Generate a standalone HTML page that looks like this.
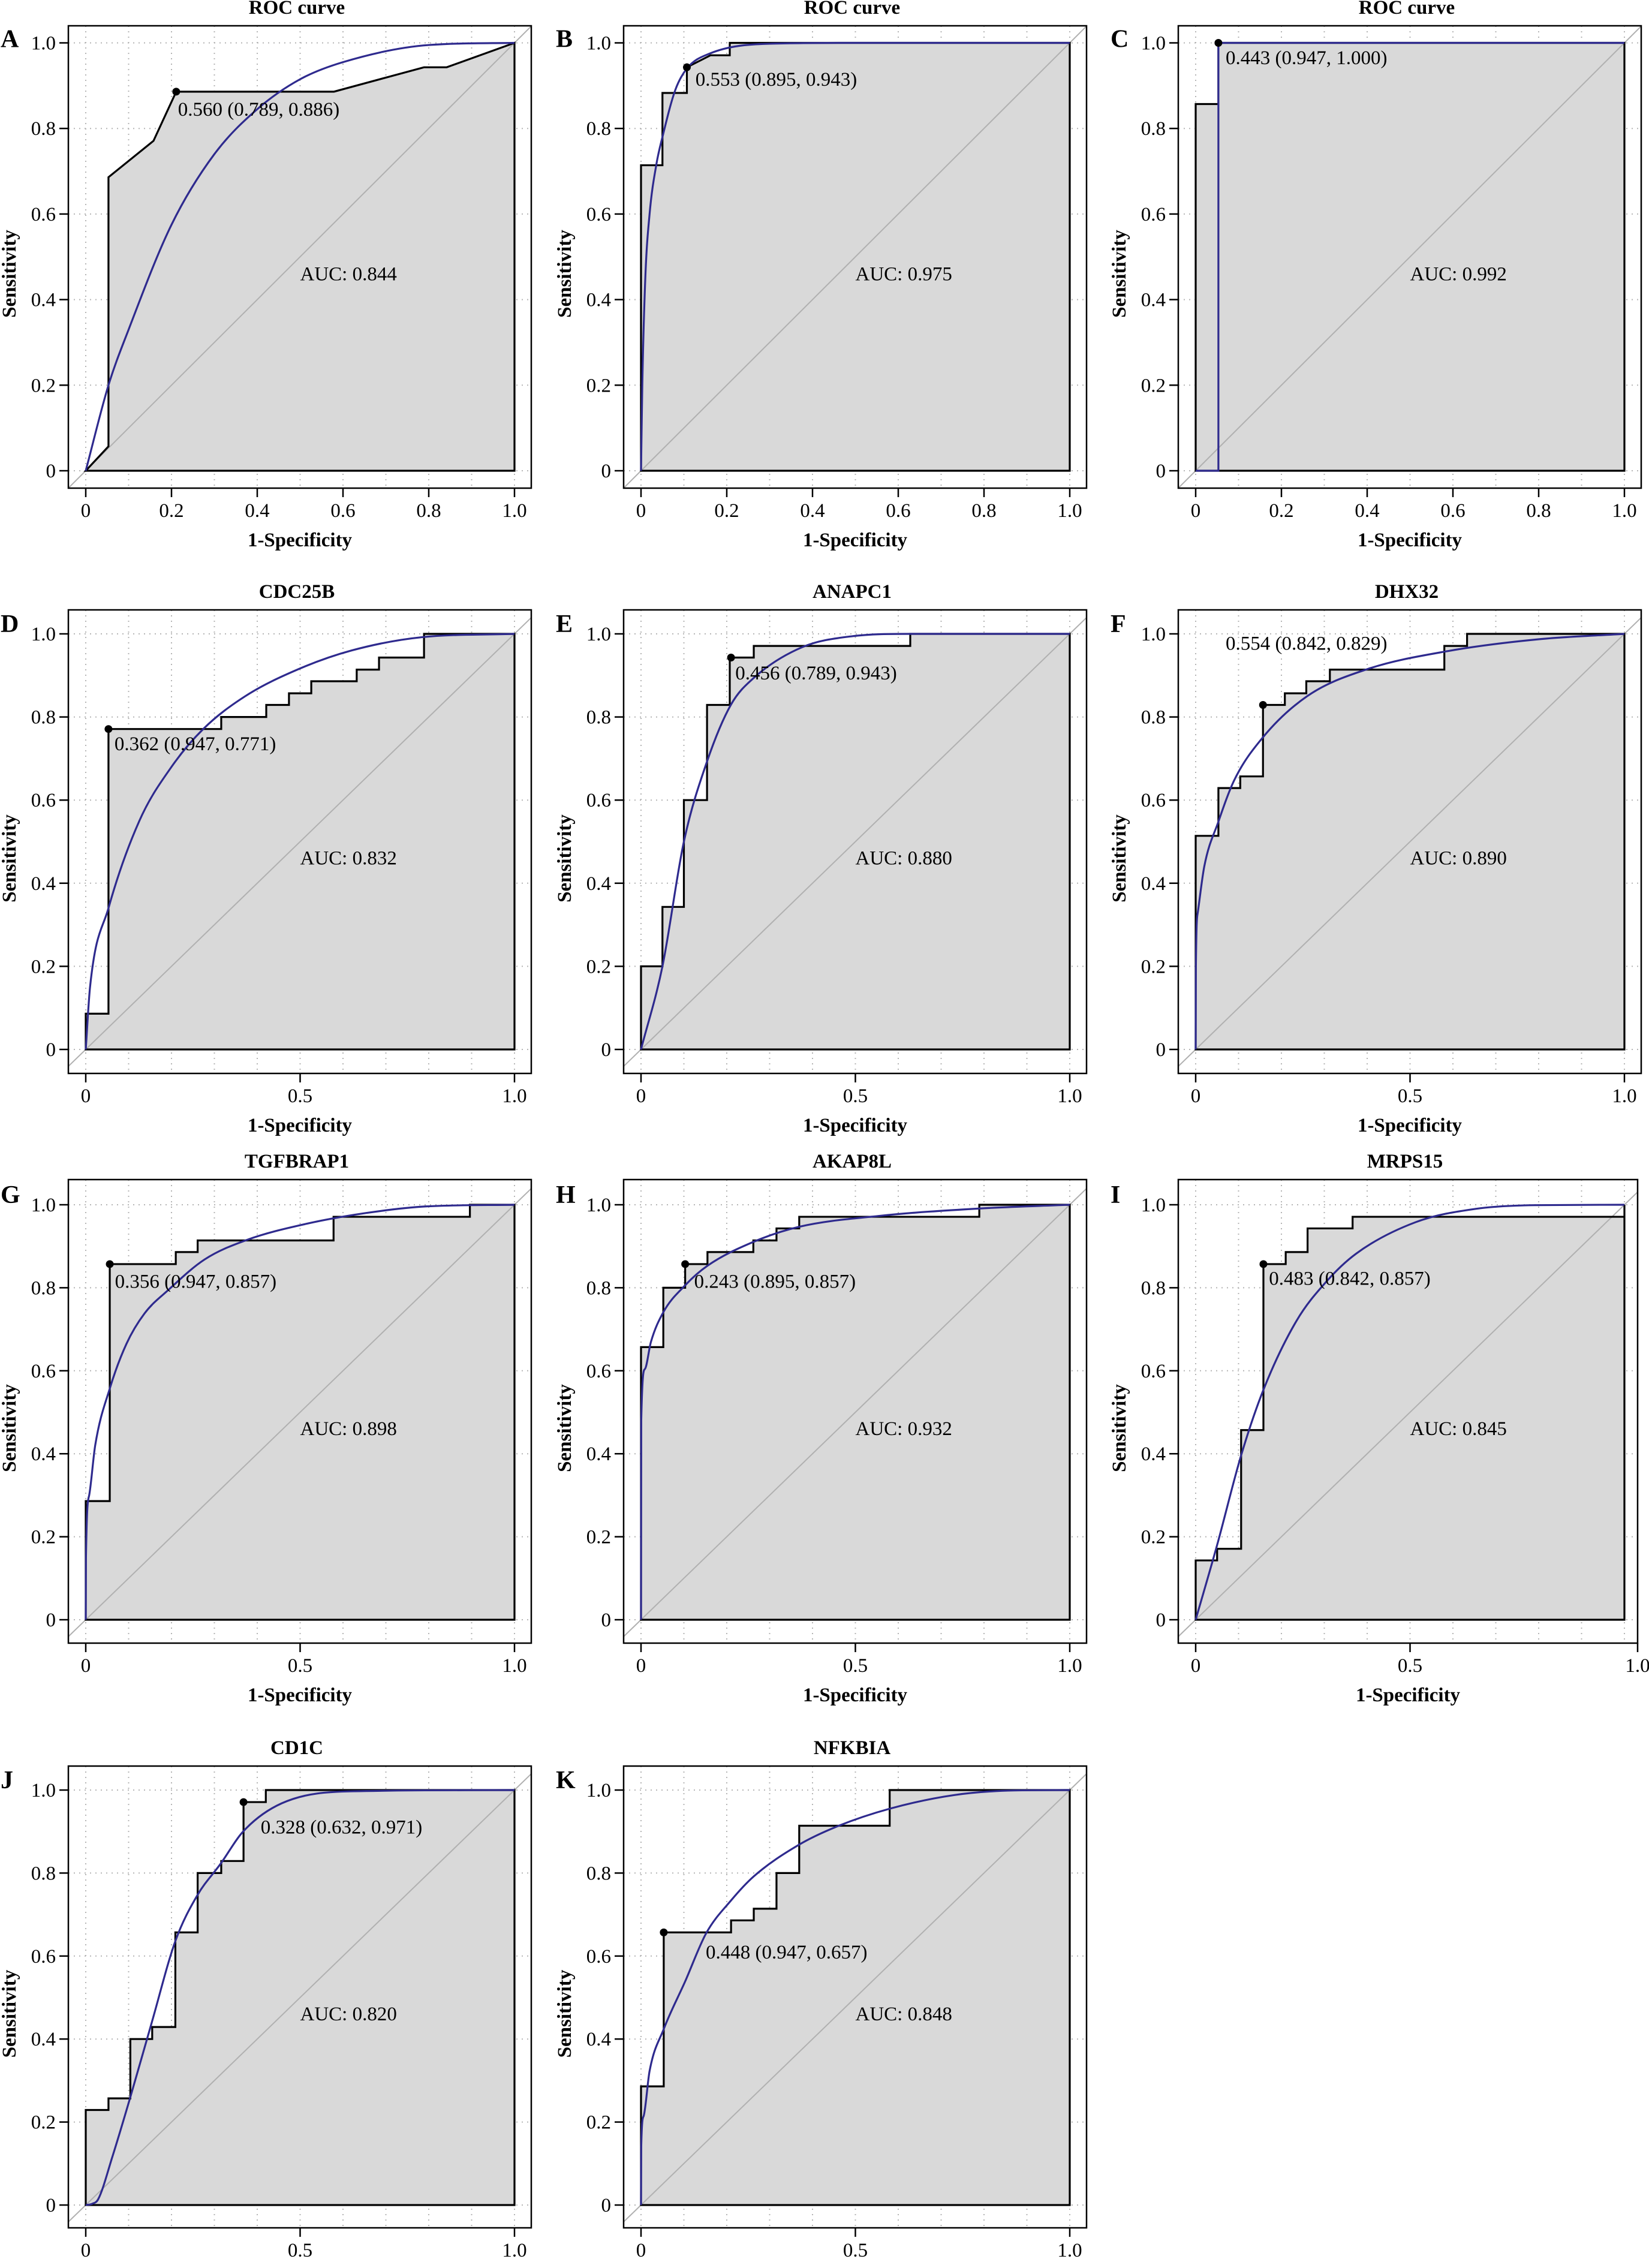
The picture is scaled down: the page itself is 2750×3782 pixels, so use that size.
<!DOCTYPE html>
<html>
<head>
<meta charset="utf-8">
<style>
  html, body { margin: 0; padding: 0; background: #ffffff; }
  svg { display: block; }
  text { font-family: "Liberation Serif", "DejaVu Serif", serif; fill: #000; }
  .bold { font-weight: bold; }
</style>
</head>
<body>
<svg id="fig" xmlns="http://www.w3.org/2000/svg" width="2750" height="3782" viewBox="0 0 2750 3782"></svg>
<script>
// ---------- data ----------
const panelLetters = ["A","B","C","D","E","F","G","H","I","J","K"];
const panelTitles = ["ROC curve","ROC curve","ROC curve","CDC25B","ANAPC1","DHX32","TGFBRAP1","AKAP8L","MRPS15","CD1C","NFKBIA"];
const aucValues = ["0.844","0.975","0.992","0.832","0.880","0.890","0.898","0.932","0.845","0.820","0.848"];
const thresholdLabels = ["0.560 (0.789, 0.886)","0.553 (0.895, 0.943)","0.443 (0.947, 1.000)","0.362 (0.947, 0.771)","0.456 (0.789, 0.943)","0.554 (0.842, 0.829)","0.356 (0.947, 0.857)","0.243 (0.895, 0.857)","0.483 (0.842, 0.857)","0.328 (0.632, 0.971)","0.448 (0.947, 0.657)"];
const thresholdPoints = [[0.211,0.886],[0.107,0.943],[0.053,1.0],[0.053,0.771],[0.21,0.943],[0.157,0.829],[0.056,0.857],[0.103,0.857],[0.158,0.857],[0.368,0.971],[0.053,0.657]];
const labelAnchors = [[0.215,0.83],[0.127,0.90],[0.07,0.95],[0.067,0.72],[0.22,0.89],[0.07,0.962],[0.068,0.80],[0.124,0.80],[0.171,0.807],[0.408,0.895],[0.151,0.594]];
const yTicks = [0,0.2,0.4,0.6,0.8,1.0];
const yTickLabels = ["0","0.2","0.4","0.6","0.8","1.0"];
const xTicksRow1 = [0,0.2,0.4,0.6,0.8,1.0];
const xTickLabelsRow1 = ["0","0.2","0.4","0.6","0.8","1.0"];
const xTicksOther = [0,0.5,1.0];
const xTickLabelsOther = ["0","0.5","1.0"];

const stepsA = [[0,0],[0.053,0.057],[0.053,0.686],[0.158,0.771],[0.211,0.886],[0.579,0.886],[0.789,0.943],[0.842,0.943],[1,1]];
const stepsB = [[0,0],[0,0.714],[0.05,0.714],[0.05,0.883],[0.107,0.883],[0.107,0.943],[0.162,0.971],[0.207,0.971],[0.207,1],[1,1]];
const stepsC = [[0,0],[0,0.857],[0.053,0.857],[0.053,1],[1,1]];
const stepsD = [[0,0],[0,0.086],[0.053,0.086],[0.053,0.771],[0.316,0.771],[0.316,0.8],[0.421,0.8],[0.421,0.829],[0.474,0.829],[0.474,0.857],[0.526,0.857],[0.526,0.886],[0.632,0.886],[0.632,0.914],[0.684,0.914],[0.684,0.943],[0.789,0.943],[0.789,1],[1,1]];
const stepsE = [[0,0],[0,0.2],[0.05,0.2],[0.05,0.343],[0.1,0.343],[0.1,0.6],[0.154,0.6],[0.154,0.829],[0.207,0.829],[0.207,0.943],[0.263,0.943],[0.263,0.971],[0.628,0.971],[0.628,1],[1,1]];
const stepsF = [[0,0],[0,0.514],[0.053,0.514],[0.053,0.629],[0.104,0.629],[0.104,0.657],[0.157,0.657],[0.157,0.829],[0.208,0.829],[0.208,0.857],[0.258,0.857],[0.258,0.886],[0.313,0.886],[0.313,0.914],[0.58,0.914],[0.58,0.971],[0.633,0.971],[0.633,1],[1,1]];
const stepsG = [[0,0],[0,0.286],[0.056,0.286],[0.056,0.857],[0.21,0.857],[0.21,0.886],[0.261,0.886],[0.261,0.914],[0.578,0.914],[0.578,0.971],[0.896,0.971],[0.896,1],[1,1]];
const stepsH = [[0,0],[0,0.657],[0.052,0.657],[0.052,0.8],[0.103,0.8],[0.103,0.857],[0.155,0.857],[0.155,0.886],[0.262,0.886],[0.262,0.914],[0.316,0.914],[0.316,0.943],[0.369,0.943],[0.369,0.971],[0.789,0.971],[0.789,1],[1,1]];
const stepsI = [[0,0],[0,0.143],[0.05,0.143],[0.05,0.171],[0.106,0.171],[0.106,0.457],[0.158,0.457],[0.158,0.857],[0.21,0.857],[0.21,0.886],[0.261,0.886],[0.261,0.943],[0.366,0.943],[0.366,0.971],[1,0.971],[1,1]];
const stepsJ = [[0,0],[0,0.229],[0.053,0.229],[0.053,0.257],[0.104,0.257],[0.104,0.4],[0.155,0.4],[0.155,0.429],[0.209,0.429],[0.209,0.657],[0.261,0.657],[0.261,0.8],[0.316,0.8],[0.316,0.829],[0.368,0.829],[0.368,0.971],[0.42,0.971],[0.42,1],[1,1]];
const stepsK = [[0,0],[0,0.286],[0.053,0.286],[0.053,0.657],[0.21,0.657],[0.21,0.686],[0.263,0.686],[0.263,0.714],[0.316,0.714],[0.316,0.8],[0.369,0.8],[0.369,0.914],[0.58,0.914],[0.58,1],[1,1]];

const smoothA = [[0,0],[0.053,0.2],[0.1,0.33],[0.2,0.575],[0.3,0.74],[0.4,0.845],[0.5,0.915],[0.6,0.955],[0.8,0.995],[1,1]];
const smoothB = [[0,0],[0.003,0.2],[0.01,0.45],[0.02,0.6],[0.036,0.717],[0.05,0.78],[0.08,0.89],[0.107,0.94],[0.16,0.975],[0.3,0.998],[0.5,1],[1,1]];
const smoothC = [[0,0],[0.053,0],[0.053,1],[1,1]];
const smoothD = [[0,0],[0.01,0.15],[0.053,0.34],[0.125,0.55],[0.2,0.68],[0.274,0.771],[0.372,0.85],[0.496,0.915],[0.62,0.96],[0.784,0.992],[1,1]];
const smoothE = [[0,0],[0.05,0.2],[0.1,0.5],[0.154,0.693],[0.21,0.83],[0.263,0.894],[0.376,0.968],[0.49,0.994],[0.63,1],[1,1]];
const smoothF = [[0,0],[0.0005,0.2],[0.005,0.33],[0.02,0.44],[0.053,0.548],[0.09,0.648],[0.156,0.75],[0.26,0.85],[0.4,0.915],[0.585,0.958],[0.8,0.987],[1,1]];
const smoothG = [[0,0],[0.0005,0.15],[0.008,0.3],[0.022,0.42],[0.056,0.557],[0.095,0.665],[0.137,0.738],[0.193,0.795],[0.277,0.868],[0.375,0.915],[0.514,0.954],[0.653,0.98],[0.793,0.996],[1,1]];
const smoothH = [[0,0],[0.0005,0.48],[0.009,0.604],[0.023,0.669],[0.052,0.741],[0.103,0.806],[0.155,0.853],[0.261,0.91],[0.369,0.947],[0.554,0.973],[0.79,0.991],[1,1]];
const smoothI = [[0,0],[0.05,0.18],[0.106,0.396],[0.158,0.554],[0.235,0.72],[0.304,0.814],[0.374,0.882],[0.513,0.958],[0.652,0.99],[0.79,0.999],[1,1]];
const smoothJ = [[0,0],[0.015,0.003],[0.029,0.014],[0.062,0.116],[0.104,0.26],[0.154,0.44],[0.209,0.636],[0.26,0.746],[0.315,0.823],[0.367,0.9],[0.457,0.968],[0.622,0.997],[1,1]];
const smoothK = [[0,0],[0.0005,0.142],[0.006,0.214],[0.02,0.323],[0.053,0.424],[0.103,0.539],[0.152,0.655],[0.21,0.734],[0.263,0.792],[0.368,0.868],[0.459,0.913],[0.58,0.955],[0.731,0.988],[0.87,0.999],[1,1]];

const allSteps = [stepsA,stepsB,stepsC,stepsD,stepsE,stepsF,stepsG,stepsH,stepsI,stepsJ,stepsK];
const allSmooth = [smoothA,smoothB,smoothC,smoothD,smoothE,smoothF,smoothG,smoothH,smoothI,smoothJ,smoothK];

// ---------- layout ----------
const NS = "http://www.w3.org/2000/svg";
const svg = document.getElementById("fig");
const colX0 = [143, 1069, 1994];
const DW = 715;
const rowY1 = [71.5, 1057, 2009, 2985];
const rowY0 = [785, 1750, 2701, 3677];
const boxTop = [43, 1017, 1967, 2945];
const boxBot = [814, 1790, 2740, 3715];

function mk(tag, attrs, parent) {
  const e = document.createElementNS(NS, tag);
  for (const k in attrs) e.setAttribute(k, attrs[k]);
  (parent || svg).appendChild(e);
  return e;
}

// monotone cubic (Fritsch–Carlson) in data space, returns path through px mapping
function monotonePath(pts, sx, sy) {
  const n = pts.length;
  const xs = pts.map(p => p[0]), ys = pts.map(p => p[1]);
  const d = [], m = [];
  for (let i = 0; i < n - 1; i++) d.push((ys[i + 1] - ys[i]) / (xs[i + 1] - xs[i]));
  m[0] = d[0]; m[n - 1] = d[n - 2];
  for (let i = 1; i < n - 1; i++) m[i] = (d[i - 1] * d[i] <= 0) ? 0 : (d[i - 1] + d[i]) / 2;
  for (let i = 0; i < n - 1; i++) {
    if (d[i] === 0) { m[i] = 0; m[i + 1] = 0; continue; }
    const a = m[i] / d[i], b = m[i + 1] / d[i], s = a * a + b * b;
    if (s > 9) { const t = 3 / Math.sqrt(s); m[i] = t * a * d[i]; m[i + 1] = t * b * d[i]; }
  }
  let path = "M" + sx(xs[0]) + "," + sy(ys[0]);
  for (let i = 0; i < n - 1; i++) {
    const h = xs[i + 1] - xs[i];
    const c1x = xs[i] + h / 3, c1y = ys[i] + m[i] * h / 3;
    const c2x = xs[i + 1] - h / 3, c2y = ys[i + 1] - m[i + 1] * h / 3;
    path += " C" + sx(c1x) + "," + sy(c1y) + " " + sx(c2x) + "," + sy(c2y) + " " + sx(xs[i + 1]) + "," + sy(ys[i + 1]);
  }
  return path;
}

for (let i = 0; i < 11; i++) {
  const row = Math.floor(i / 3), col = i % 3;
  const x0 = colX0[col], y0 = rowY0[row], y1 = rowY1[row];
  const sx = v => x0 + v * DW;
  const sy = v => y0 - v * (y0 - y1);
  const bl = x0 - 29, br = (i === 8) ? 2731 : x0 + DW + 28, bt = boxTop[row], bb = boxBot[row];

  const g = mk("g", {});
  
  

  const clip = mk("clipPath", { id: "clip" + i }, g);
  mk("rect", { x: bl, y: bt, width: br - bl, height: bb - bt }, clip);

  const grid = mk("g", { stroke: "#b5b5b5", "stroke-width": 2, "stroke-dasharray": "2 7" }, g);
  
  
  for (let k = 0; k <= 10; k++) mk("line", { x1: sx(k / 10), x2: sx(k / 10), y1: bt, y2: bb }, grid);
  yTicks.forEach(t => mk("line", { x1: bl, x2: br, y1: sy(t), y2: sy(t) }, grid));

  const steps = allSteps[i];
  let pd = steps.map((p, k) => (k ? "L" : "M") + sx(p[0]) + "," + sy(p[1])).join(" ");
  pd += " L" + sx(1) + "," + sy(0) + " Z";
  const area = mk("path", { d: pd, fill: "#d9d9d9", stroke: "none" }, g);
  
  

  const diag = mk("line", { x1: sx(-0.2), y1: sy(-0.2), x2: sx(1.2), y2: sy(1.2), stroke: "#b0b0b0", "stroke-width": 2, "clip-path": "url(#clip" + i + ")" }, g);
  
  

  const roc = mk("path", { d: pd, fill: "none", stroke: "#000", "stroke-width": 3.2, "stroke-linejoin": "miter" }, g);
  
  

  const spts = allSmooth[i];
  const sd = (i === 2) ? spts.map((p, k) => (k ? "L" : "M") + sx(p[0]) + "," + sy(p[1])).join(" ") : monotonePath(spts, sx, sy);
  const sm = mk("path", { d: sd, fill: "none", stroke: "#2e2a8e", "stroke-width": 3.2, "clip-path": "url(#clip" + i + ")" }, g);
  
  

  const tp = thresholdPoints[i];
  const dot = mk("circle", { cx: sx(tp[0]), cy: sy(tp[1]), r: 6.5, fill: "#000" }, g);
  
  
  const la = labelAnchors[i];
  const tl = mk("text", { x: sx(la[0]), y: sy(la[1]), "font-size": 33 }, g);
  tl.textContent = thresholdLabels[i];
  
  

  const auc = mk("text", { x: sx(0.5), y: sy(0.445), "font-size": 33 }, g);
  auc.textContent = "AUC: " + aucValues[i];
  
  

  const box = mk("rect", { x: bl, y: bt, width: br - bl, height: bb - bt, fill: "none", stroke: "#000", "stroke-width": 2.5 }, g);
  
  

  yTicks.forEach((t, k) => {
    mk("line", { x1: bl - 15, x2: bl, y1: sy(t), y2: sy(t), stroke: "#000", "stroke-width": 2.5 }, g);
    const tt = mk("text", { x: bl - 21, y: sy(t) + 11, "font-size": 33, "text-anchor": "end" }, g);
    tt.textContent = yTickLabels[k];
    
    
  });
  const xt = row === 0 ? xTicksRow1 : xTicksOther;
  const xl = row === 0 ? xTickLabelsRow1 : xTickLabelsOther;
  xt.forEach((t, k) => {
    const px = (i === 8 && t === 1) ? br : sx(t);
    mk("line", { x1: px, x2: px, y1: bb, y2: bb + 15, stroke: "#000", "stroke-width": 2.5 }, g);
    const tt = mk("text", { x: px, y: bb + 48, "font-size": 33, "text-anchor": "middle" }, g);
    tt.textContent = xl[k];
    
    
  });

  const xtitle = mk("text", { x: (bl + br) / 2, y: bb + 97, "font-size": 33, "text-anchor": "middle", class: "bold" }, g);
  xtitle.textContent = "1-Specificity";
  
  

  const ycx = x0 - 117, ycy = (bt + bb) / 2 + 28;
  const ytitle = mk("text", { x: ycx, y: ycy, "font-size": 33, "text-anchor": "middle", class: "bold", transform: "rotate(-90 " + ycx + " " + ycy + ")" }, g);
  ytitle.textContent = "Sensitivity";
  
  

  const title = mk("text", { x: (bl + br) / 2 - 5, y: bt - 20, "font-size": 33, "text-anchor": "middle", class: "bold" }, g);
  title.textContent = panelTitles[i];
  
  

  const letter = mk("text", { x: x0 - 142, y: row === 0 ? y1 + 7 : y1 - 3, "font-size": 42, class: "bold" }, g);
  letter.textContent = panelLetters[i];
  
  
}
</script>
</body>
</html>
